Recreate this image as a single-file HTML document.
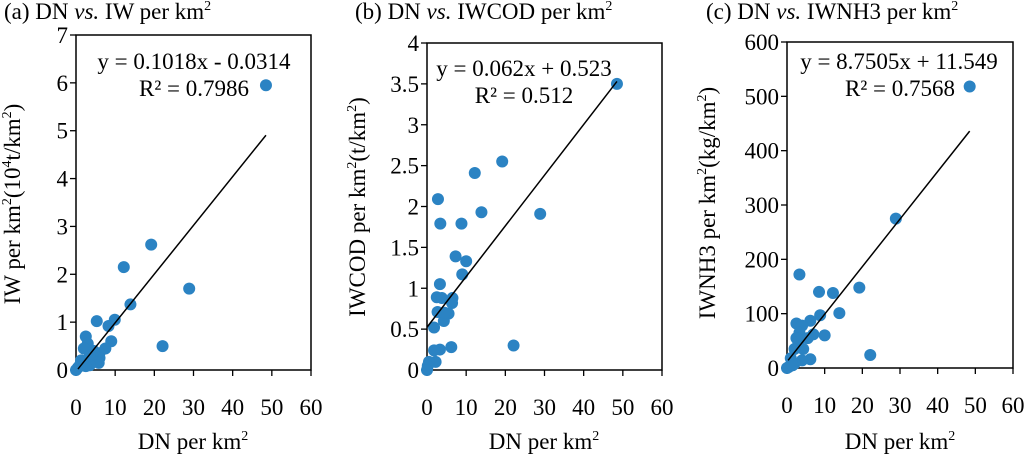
<!DOCTYPE html>
<html><head><meta charset="utf-8"><style>
html,body{margin:0;padding:0;background:#fff;}
svg{display:block;}
svg text{font-family:"Liberation Serif","Times New Roman",serif;}
</style></head><body>
<svg id="fig" width="1024" height="458" viewBox="0 0 1024 458" xmlns="http://www.w3.org/2000/svg" font-family="Liberation Serif, serif"></svg>
<script>
const xTicks = [0,10,20,30,40,50,60];
const aYTicks = [0,1,2,3,4,5,6,7];
const bYTicks = [0,0.5,1,1.5,2,2.5,3,3.5,4];
const cYTicks = [0,100,200,300,400,500,600];
const aX = [48.5,19.2,12.2,28.9,13.9,9.9,5.3,8.3,2.5,3,9,22.1,7.5,2,6,6,5.8,4,1.3,3.5,2.5,0.5,0,1,4.5,3.5];
const aY = [5.95,2.62,2.15,1.7,1.37,1.05,1.02,0.92,0.7,0.55,0.6,0.5,0.45,0.45,0.35,0.25,0.15,0.3,0.2,0.1,0.08,0.05,0,0.1,0.4,0.3];
const bX = [48.5,19.2,12.2,2.8,13.9,28.9,3.4,8.8,7.3,10,9,3.3,2.5,3.8,6.5,6.4,2.7,5.5,4.3,1.8,6.2,22.1,3.3,1.8,2.2,0.5,0.2,0,4.5];
const bY = [3.5,2.55,2.41,2.09,1.93,1.91,1.79,1.79,1.39,1.33,1.17,1.05,0.89,0.88,0.88,0.82,0.71,0.69,0.6,0.52,0.28,0.3,0.25,0.24,0.1,0.1,0.05,0,0.7];
const cX = [48.5,28.9,3.3,19.2,8.5,12.2,13.9,8.8,2.5,6.2,4,3.3,10,7,5.5,2.5,3,4.3,2,22.1,6.2,4,1,2,0.5,0,1.5];
const cY = [518,275,172,148,140,138,101,97,82,87,78,65,60,62,55,55,48,35,35,24,16,14,18,8,2,0,5];
const aFit = [0.1018,-0.0314];
const bFit = [0.062,0.523];
const cFit = [8.7505,11.549];

const svg = document.getElementById('fig');
const NS = 'http://www.w3.org/2000/svg';
const FF = '"Liberation Serif", serif';
function mk(tag, attrs, parent){const e=document.createElementNS(NS,tag);for(const k in attrs)e.setAttribute(k,attrs[k]);if(tag==='text')e.style.fontFamily=FF;(parent||svg).appendChild(e);return e;}

function panel(p){
  const g = mk('g',{});
  
  
  const sx = v => p.l + (v-0)/(60-0)*(p.r-p.l);
  const sy = v => p.b - v/p.ymax*(p.b-p.t);
  const frame = mk('rect',{x:p.l,y:p.t,width:p.r-p.l,height:p.b-p.t,fill:'none',stroke:'#000','stroke-width':1.5},g);
  
  
  p.yt.forEach(v=>{
    mk('line',{x1:p.l-6,x2:p.l,y1:sy(v),y2:sy(v),stroke:'#000','stroke-width':1.3},g);
    const t = mk('text',{x:p.l-8,y:sy(v)+8,'text-anchor':'end','font-size':23},g);
    t.textContent = v;
    
    
  });
  xTicks.forEach(v=>{
    mk('line',{x1:sx(v),x2:sx(v),y1:p.b,y2:p.b+6,stroke:'#000','stroke-width':1.3},g);
    const t = mk('text',{x:sx(v),y:p.b+45,'text-anchor':'middle','font-size':23},g);
    t.textContent = v;
    
    
  });
  p.xs.forEach((x,i)=>{
    const c = mk('circle',{cx:sx(x),cy:sy(p.ys[i]),r:6,fill:'#2b83c3'},g);
    
    
  });
  const ln = mk('line',{x1:sx(p.x0),y1:sy(p.fit[0]*p.x0+p.fit[1]),x2:sx(48.5),y2:sy(p.fit[0]*48.5+p.fit[1]),stroke:'#000','stroke-width':1.5},g);
  
  
  const e1 = mk('text',{x:p.eqx,y:p.eqy,'text-anchor':'middle','font-size':23},g);
  e1.textContent = p.eq;
  
  
  const e2 = mk('text',{x:p.r2x,y:p.eqy+27,'text-anchor':'middle','font-size':23},g);
  e2.textContent = p.r2;
  
  
  const ti = mk('text',{x:p.tx,y:19,'font-size':23},g);
  ti.innerHTML = p.title;
  
  
  const xl = mk('text',{x:p.xlx,y:449,'text-anchor':'middle','font-size':23},g);
  xl.innerHTML = 'DN per km<tspan dy="-9" font-size="14">2</tspan>';
  
  
  const yl = mk('text',{x:0,y:0,'text-anchor':'middle','font-size':23,transform:`translate(${p.ylx},${p.yly}) rotate(-90)`},g);
  yl.innerHTML = p.ylab;
  
  
}
const sup = s => `<tspan dy="-9" font-size="14">${s}</tspan><tspan dy="9">`;
panel({id:'panel-a',l:76,r:311,t:35,b:370,ymax:7,yt:aYTicks,xs:aX,ys:aY,fit:aFit,x0:0.5,
  eq:'y = 0.1018x - 0.0314',r2:'R² = 0.7986',eqx:194,eqy:69,r2x:194,tx:4,
  title:'(a) DN <tspan font-style="italic">vs.</tspan> IW per km<tspan dy="-9" font-size="14">2</tspan>',
  xlx:193,ylx:20,yly:204,ylab:'IW per km'+sup('2')+'(10'+sup('4')+'t/km'+sup('2')+')</tspan></tspan></tspan>'});
panel({id:'panel-b',l:427,r:662,t:43,b:370,ymax:4,yt:bYTicks,xs:bX,ys:bY,fit:bFit,x0:0,
  eq:'y = 0.062x + 0.523',r2:'R² = 0.512',eqx:524,eqy:76,r2x:524,tx:355,
  title:'(b) DN <tspan font-style="italic">vs.</tspan> IWCOD per km<tspan dy="-9" font-size="14">2</tspan>',
  xlx:544,ylx:365,yly:207,ylab:'IWCOD per km'+sup('2')+'(t/km'+sup('2')+')</tspan></tspan>'});
panel({id:'panel-c',l:787,r:1013,t:42,b:368,ymax:600,yt:cYTicks,xs:cX,ys:cY,fit:cFit,x0:0.3,
  eq:'y = 8.7505x + 11.549',r2:'R² = 0.7568',eqx:899,eqy:69,r2x:900,tx:706,
  title:'(c) DN <tspan font-style="italic">vs.</tspan> IWNH3 per km<tspan dy="-9" font-size="14">2</tspan>',
  xlx:900,ylx:715,yly:203,ylab:'IWNH3 per km'+sup('2')+'(kg/km'+sup('2')+')</tspan></tspan>'});
</script>
</body></html>
